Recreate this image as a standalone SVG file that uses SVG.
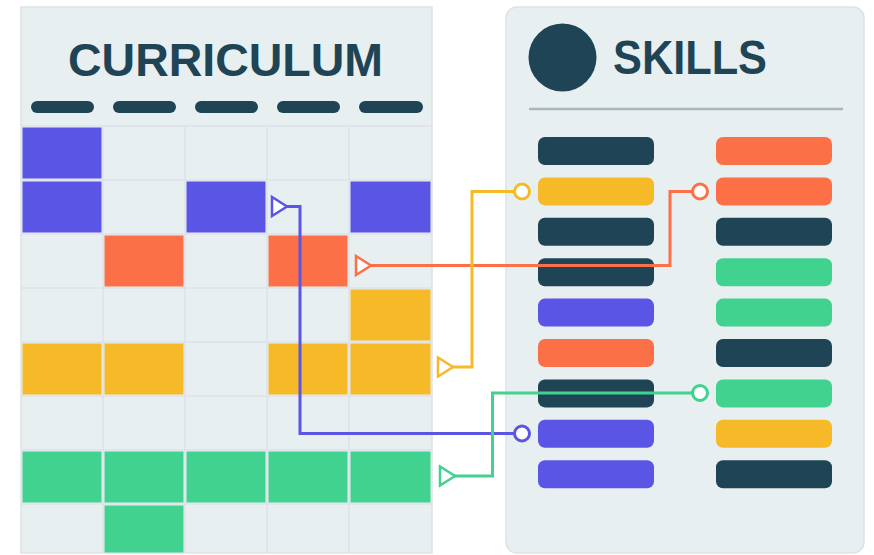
<svg xmlns="http://www.w3.org/2000/svg" width="874" height="555" viewBox="0 0 874 555">
  <style>
    .panel { fill: #e8eff0; stroke: #dbe3e8; stroke-width: 1.5; }
    .grid { stroke: #dbe2e9; stroke-width: 1.5; fill: none; }
    .title { font-family: "Liberation Sans", Arial, sans-serif; font-weight: 700; fill: #1f4455; }
    .dark { fill: #1f4455; }
    .purple { fill: #5b55e6; }
    .orange { fill: #fc7047; }
    .yellow { fill: #f6b927; }
    .green { fill: #40d28e; }
    .wire { fill: none; stroke-width: 3; stroke-linejoin: miter; }
    .tip { fill: #ffffff; stroke-width: 2.5; stroke-linejoin: miter; }
    .end { fill: #ffffff; stroke-width: 3; }
  </style>
  <rect width="874" height="555" fill="#ffffff"/>

  <!-- Curriculum panel: header and 5-column timetable grid -->
  <g id="curriculum">
    <rect class="panel" x="21" y="7" width="411" height="546"/>
    <text class="title" x="225.5" y="76" font-size="46" text-anchor="middle" textLength="315" lengthAdjust="spacingAndGlyphs">CURRICULUM</text>
    <g class="dark">
      <rect x="31" y="101" width="63" height="12" rx="6"/>
      <rect x="113" y="101" width="63" height="12" rx="6"/>
      <rect x="195" y="101" width="63" height="12" rx="6"/>
      <rect x="277" y="101" width="63" height="12" rx="6"/>
      <rect x="359" y="101" width="64" height="12" rx="6"/>
    </g>
    <g class="grid">
      <path d="M103 126V553M185 126V553M267 126V553M349 126V553"/>
      <path d="M21 126H432M21 180H432M21 234H432M21 288H432M21 342H432M21 396H432M21 450H432M21 504H432"/>
    </g>
    <g class="purple">
      <rect x="22.5" y="127.5" width="79" height="51"/>
      <rect x="22.5" y="181.5" width="79" height="51"/>
      <rect x="186.5" y="181.5" width="79" height="51"/>
      <rect x="350.5" y="181.5" width="80" height="51"/>
    </g>
    <g class="orange">
      <rect x="104.5" y="235.5" width="79" height="51"/>
      <rect x="268.5" y="235.5" width="79" height="51"/>
    </g>
    <g class="yellow">
      <rect x="350.5" y="289.5" width="80" height="51"/>
      <rect x="22.5" y="343.5" width="79" height="51"/>
      <rect x="104.5" y="343.5" width="79" height="51"/>
      <rect x="268.5" y="343.5" width="79" height="51"/>
      <rect x="350.5" y="343.5" width="80" height="51"/>
    </g>
    <g class="green">
      <rect x="22.5" y="451.5" width="79" height="51"/>
      <rect x="104.5" y="451.5" width="79" height="51"/>
      <rect x="186.5" y="451.5" width="79" height="51"/>
      <rect x="268.5" y="451.5" width="79" height="51"/>
      <rect x="350.5" y="451.5" width="80" height="51"/>
      <rect x="104.5" y="505.5" width="79" height="47"/>
    </g>
  </g>

  <!-- Skills panel: header and two columns of skill bars -->
  <g id="skills">
    <rect class="panel" x="506" y="7" width="358" height="546" rx="11"/>
    <circle class="dark" cx="562.5" cy="57.5" r="34"/>
    <text class="title" x="613" y="74" font-size="48" textLength="154" lengthAdjust="spacingAndGlyphs">SKILLS</text>
    <line x1="529" y1="109" x2="843" y2="109" stroke="#aab6bd" stroke-width="2.5"/>
    <g id="skills-left">
      <rect class="dark" x="538" y="137" width="116" height="28" rx="7"/>
      <rect class="yellow" x="538" y="177.4" width="116" height="28" rx="7"/>
      <rect class="dark" x="538" y="217.8" width="116" height="28" rx="7"/>
      <rect class="dark" x="538" y="258.2" width="116" height="28" rx="7"/>
      <rect class="purple" x="538" y="298.6" width="116" height="28" rx="7"/>
      <rect class="orange" x="538" y="339" width="116" height="28" rx="7"/>
      <rect class="dark" x="538" y="379.4" width="116" height="28" rx="7"/>
      <rect class="purple" x="538" y="419.8" width="116" height="28" rx="7"/>
      <rect class="purple" x="538" y="460.2" width="116" height="28" rx="7"/>
    </g>
    <g id="skills-right">
      <rect class="orange" x="716" y="137" width="116" height="28" rx="7"/>
      <rect class="orange" x="716" y="177.4" width="116" height="28" rx="7"/>
      <rect class="dark" x="716" y="217.8" width="116" height="28" rx="7"/>
      <rect class="green" x="716" y="258.2" width="116" height="28" rx="7"/>
      <rect class="green" x="716" y="298.6" width="116" height="28" rx="7"/>
      <rect class="dark" x="716" y="339" width="116" height="28" rx="7"/>
      <rect class="green" x="716" y="379.4" width="116" height="28" rx="7"/>
      <rect class="yellow" x="716" y="419.8" width="116" height="28" rx="7"/>
      <rect class="dark" x="716" y="460.2" width="116" height="28" rx="7"/>
    </g>
  </g>

  <!-- Connectors: timetable slot -> skill -->
  <g id="connectors">
    <g id="link-purple" stroke="#5b55e6">
      <path class="wire" d="M286 206.5H300V433.5H514.5"/>
      <polygon class="tip" points="272,197 272,216 287,206.5"/>
      <circle class="end" cx="522" cy="433.5" r="7.5"/>
    </g>
    <g id="link-orange" stroke="#fc7047">
      <path class="wire" d="M370 265.5H670V191.5H692.5"/>
      <polygon class="tip" points="356,256 356,275 371,265.5"/>
      <circle class="end" cx="700" cy="191.5" r="7.5"/>
    </g>
    <g id="link-yellow" stroke="#f6b927">
      <path class="wire" d="M452 367H472V191.5H514.5"/>
      <polygon class="tip" points="438,357.5 438,376.5 453,367"/>
      <circle class="end" cx="522" cy="191.5" r="7.5"/>
    </g>
    <g id="link-green" stroke="#40d28e">
      <path class="wire" d="M454 476H492.5V393H692.5"/>
      <polygon class="tip" points="440,466.5 440,485.5 455,476"/>
      <circle class="end" cx="700" cy="393" r="7.5"/>
    </g>
  </g>
</svg>
